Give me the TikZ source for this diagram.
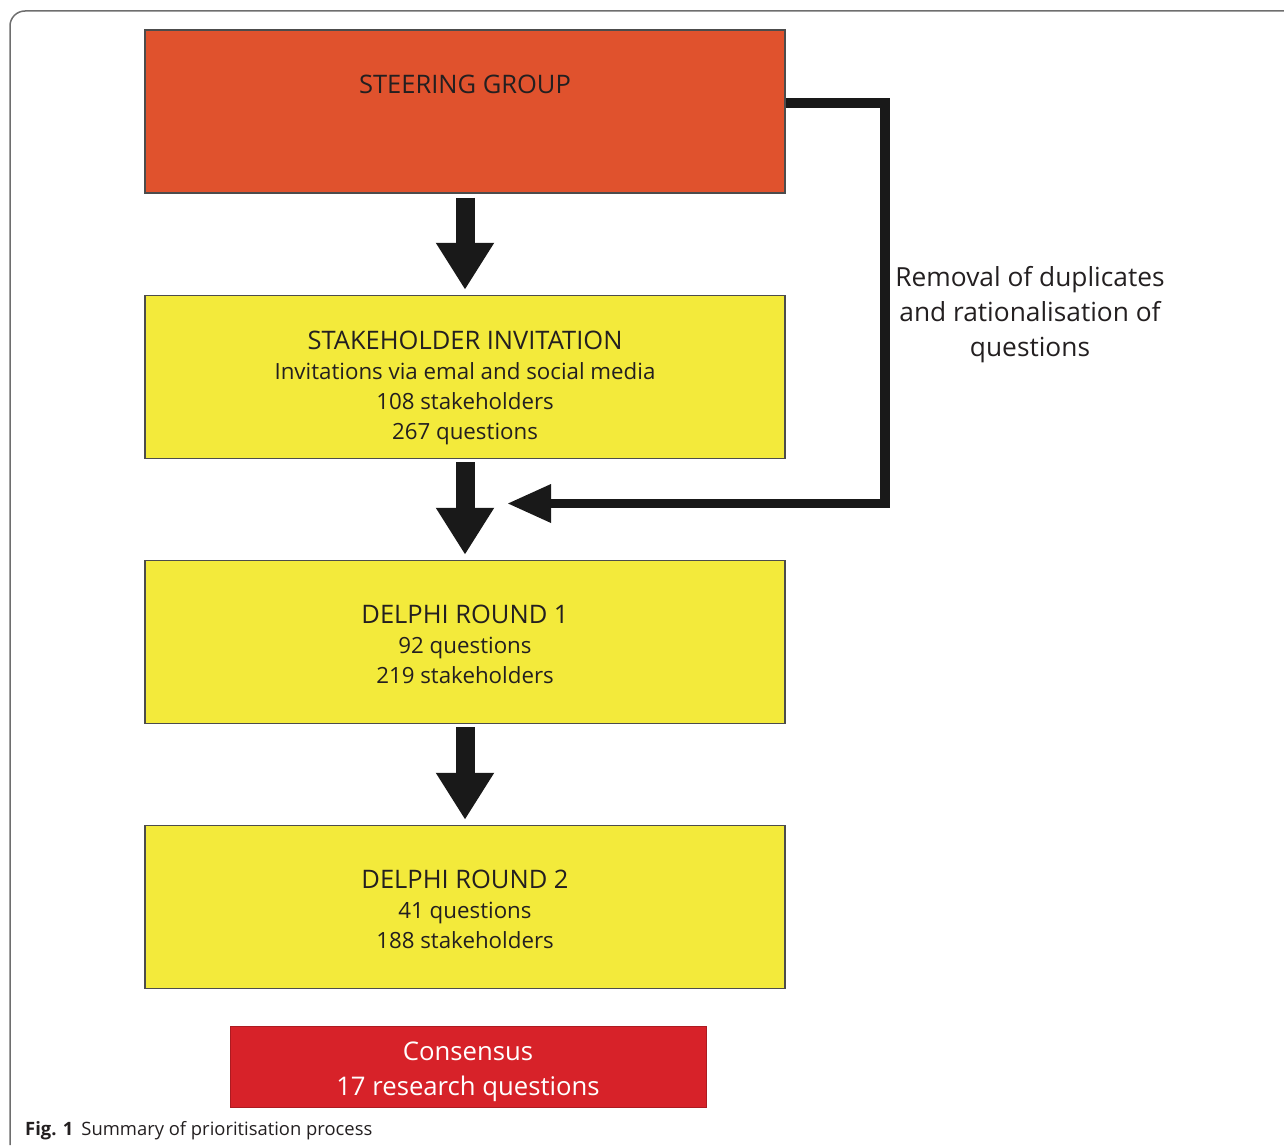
\documentclass[tikz,border=0pt]{standalone}
\usepackage{fontspec}
\setmainfont{Open Sans}
\usetikzlibrary{arrows.meta}
\definecolor{steerc}{HTML}{E0522D}
\definecolor{yelc}{HTML}{F3EA3B}
\definecolor{consc}{HTML}{D72229}
\definecolor{inkc}{HTML}{231F20}
\definecolor{framec}{HTML}{6E6E6E}
\newcommand{\boxtitle}[1]{{\fontsize{25.5}{30}\selectfont #1}}
\begin{document}
\begin{tikzpicture}[x=1pt,y=-1pt,
  box/.style={draw=black!70, line width=1.5pt, minimum width=640pt, minimum height=163pt, inner sep=0pt},
  boxtext/.style={text=inkc, align=center, font=\fontsize{22.3}{30}\selectfont, inner sep=0pt},
  fat/.style={black!90, line width=19pt, -{Triangle[width=55pt,length=47pt]}},
  fback/.style={black!90, line width=9.5pt, -{Triangle[width=36pt,length=44pt]}},
  lbl/.style={text=inkc, align=center, font=\fontsize{26.3}{35}\selectfont, inner sep=0pt},
  frame/.style={draw=framec, line width=1.5pt, rounded corners=15pt}
]
\useasboundingbox (0,0) rectangle (1284,1145);
\draw[frame] (10,1145) -- (10,11) -- (1284,11);

\node[box, fill=steerc] (steer) at (465,111.5) {};
\node[box, fill=yelc] (stake) at (465,377) {};
\node[box, fill=yelc] (d1) at (465,642) {};
\node[box, fill=yelc] (d2) at (465,907) {};
\node[draw=consc!80!black, line width=0.6pt, fill=consc, minimum width=476pt, minimum height=81pt, inner sep=0pt] (cons) at (468,1066.5) {};

\node[boxtext] (steert) at (465,84.5) {\boxtitle{STEERING GROUP}};
\node[boxtext] (staket) at (465,388) {\boxtitle{STAKEHOLDER INVITATION}\\Invitations via emal and social media\\108 stakeholders\\267 questions};
\node[boxtext] (d1t) at (465,644) {\boxtitle{DELPHI ROUND 1}\\92 questions\\219 stakeholders};
\node[boxtext] (d2t) at (465,909) {\boxtitle{DELPHI ROUND 2}\\41 questions\\188 stakeholders};
\node[text=white, align=center, font=\fontsize{25.7}{35}\selectfont, inner sep=0pt] (const) at (468,1072) {Consensus\\17 research questions};

\draw[fat] ([yshift=-4pt]steer.south) -- ([yshift=5pt]stake.north);
\draw[fat] ([yshift=-3pt]stake.south) -- ([yshift=5pt]d1.north);
\draw[fat] ([yshift=-3pt]d1.south) -- ([yshift=5pt]d2.north);

\coordinate (fbstart) at ([yshift=8.5pt]steer.east);
\coordinate (fbcorner) at (885,503.5);
\coordinate (fbend) at (507,503.5);
\draw[fback] (fbstart) -| (fbcorner) -- (fbend);

\node[lbl] (rem) at (1030,314.5) {Removal of duplicates\\and rationalisation of\\questions};

\node[anchor=base west, text=inkc, font=\fontsize{18.4}{22}\selectfont, inner sep=0pt] (cap) at (25,1135) {\textbf{Fig. 1}\hspace{8pt}Summary of prioritisation process};
\end{tikzpicture}
\end{document}
